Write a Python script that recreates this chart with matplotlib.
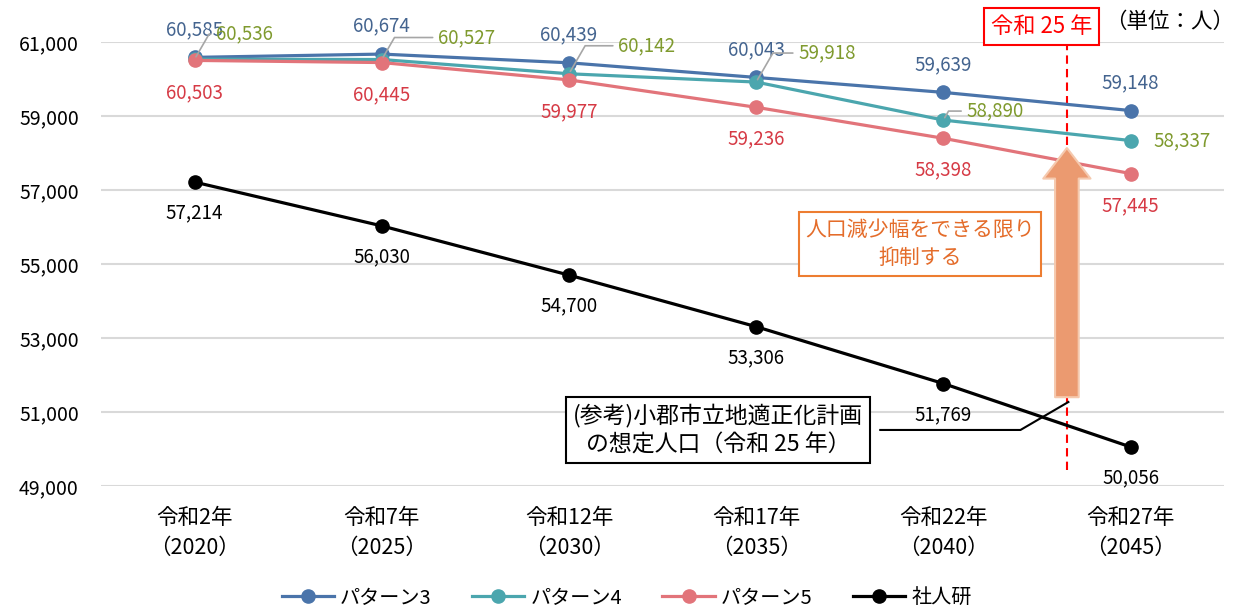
import matplotlib
matplotlib.use('Agg')
import matplotlib.pyplot as plt

plt.rcParams['font.family'] = ['Noto Sans CJK JP', 'DejaVu Sans']

# --- data ---
years = ['令和2年\n（2020）', '令和7年\n（2025）', '令和12年\n（2030）',
         '令和17年\n（2035）', '令和22年\n（2040）', '令和27年\n（2045）']
pattern3 = [60585, 60674, 60439, 60043, 59639, 59148]
pattern4 = [60536, 60527, 60142, 59918, 58890, 58337]
pattern5 = [60503, 60445, 59977, 59236, 58398, 57445]
shajinken = [57214, 56030, 54700, 53306, 51769, 50056]
series_names = ['パターン3', 'パターン4', 'パターン5', '社人研']
yticks = [49000, 51000, 53000, 55000, 57000, 59000, 61000]

# reiwa 25 (2043) sits between 2040 and 2045 on the category axis
r25_pos = 4.66
# offsets (pixels) of the pattern 4 labels, which Excel moved by hand
p4_offsets = [(50, 25), (85, 22), (78, 28), (71, 29), (52, 9), (52, 0)]

line_colors = ['#4A74AA', '#4BA6AE', '#E2747A', '#000000']
label_colors = ['#44648F', '#7F9A2E', '#D63A45', '#000000']

fig = plt.figure(figsize=(12.41, 6.09), dpi=100)
ax = fig.add_axes([0.0814, 0.202, 0.905, 0.729])

x = list(range(len(years)))
for vals, name, c in zip([pattern3, pattern4, pattern5, shajinken], series_names, line_colors):
    ax.plot(x, vals, color=c, lw=2.3, marker='o', markersize=9.5, label=name, zorder=3)

fs = 13.5
# pattern 3 labels above
for i, v in enumerate(pattern3):
    ax.annotate(f'{v:,}', (i, v), xytext=(0, 28), textcoords='offset pixels',
                ha='center', va='center', fontsize=fs, color=label_colors[0],
                annotation_clip=False, zorder=5)
# pattern 5 labels below
for i, v in enumerate(pattern5):
    ax.annotate(f'{v:,}', (i, v), xytext=(0, -32), textcoords='offset pixels',
                ha='center', va='center', fontsize=fs, color=label_colors[2], zorder=5)
# shajinken labels below
for i, v in enumerate(shajinken):
    ax.annotate(f'{v:,}', (i, v), xytext=(0, -31), textcoords='offset pixels',
                ha='center', va='center', fontsize=fs, color=label_colors[3], zorder=5)
# pattern 4 labels off to the right, most with leader lines
for i, v in enumerate(pattern4):
    dx, dy = p4_offsets[i]
    props = None
    if i < 5:
        props = dict(arrowstyle='-', color='#A6A6A6', lw=1.2, shrinkA=2, shrinkB=2,
                     relpos=(0, 0.5), connectionstyle='angle,angleA=0,angleB=60,rad=0')
    ax.annotate(f'{v:,}', (i, v), xytext=(dx, dy), textcoords='offset pixels',
                ha='center', va='center', fontsize=fs, color=label_colors[1],
                arrowprops=props, annotation_clip=False, zorder=5)

# axes styling
ax.set_xlim(-0.5, 5.5)
ax.set_ylim(49000, 61000)
ax.set_yticks(yticks)
ax.set_yticklabels([f'{t:,}' for t in yticks], fontsize=14)
ax.set_xticks(x)
ax.set_xticklabels(years, fontsize=15.5, linespacing=1.45)
ax.tick_params(length=0)
ax.tick_params(axis='y', pad=16)
ax.tick_params(axis='x', pad=15)
ax.grid(axis='y', color='#D9D9D9', lw=1.5)
ax.set_axisbelow(True)
for s in ax.spines.values():
    s.set_visible(False)

# reiwa 25 marker line and box
ax.plot([r25_pos, r25_pos], [49430, 61060], color='#FF0000', lw=1.5,
        ls=(0, (4, 2.5)), clip_on=False, zorder=2)
ax.text(4.524, 61420, '令和 25 年', ha='center', va='center', fontsize=16,
        color='#FF0000', bbox=dict(boxstyle='square,pad=0.3', fc='white', ec='#FF0000', lw=1.5))
ax.text(5.21, 61540, '（単位：人）', ha='center', va='center', fontsize=15.5, color='black')

# big arrow
ax.annotate('', xy=(r25_pos, 58135), xytext=(r25_pos, 51400),
            arrowprops=dict(arrowstyle='simple,head_length=22,head_width=34,tail_width=17',
                            mutation_scale=1, fc='#EB9A70', ec='#F5C9AE', lw=1.5,
                            shrinkA=0, shrinkB=0), zorder=4)
ax.text(3.877, 55541, '人口減少幅をできる限り\n抑制する', ha='center', va='center',
        fontsize=15, color='#E46C2A', linespacing=1.4, zorder=6,
        bbox=dict(boxstyle='square,pad=0.3', fc='white', ec='#ED7D31', lw=1.5))

# reference call-out
ax.plot([3.663, 4.412, 4.668], [50514, 50514, 51270], color='black', lw=1.5, zorder=4)
ax.text(2.797, 50514, '(参考)小郡市立地適正化計画\nの想定人口（令和 25 年）', ha='center', va='center',
        fontsize=16.5, color='black', linespacing=1.3, zorder=6,
        bbox=dict(boxstyle='square,pad=0.3', fc='white', ec='black', lw=1.5))

fig.legend(loc='center', bbox_to_anchor=(0.505, 0.018), ncol=4, frameon=False,
           fontsize=14.5, handlelength=2.6, columnspacing=2.0, handletextpad=0.3)

fig.savefig('out.png', dpi=100)
